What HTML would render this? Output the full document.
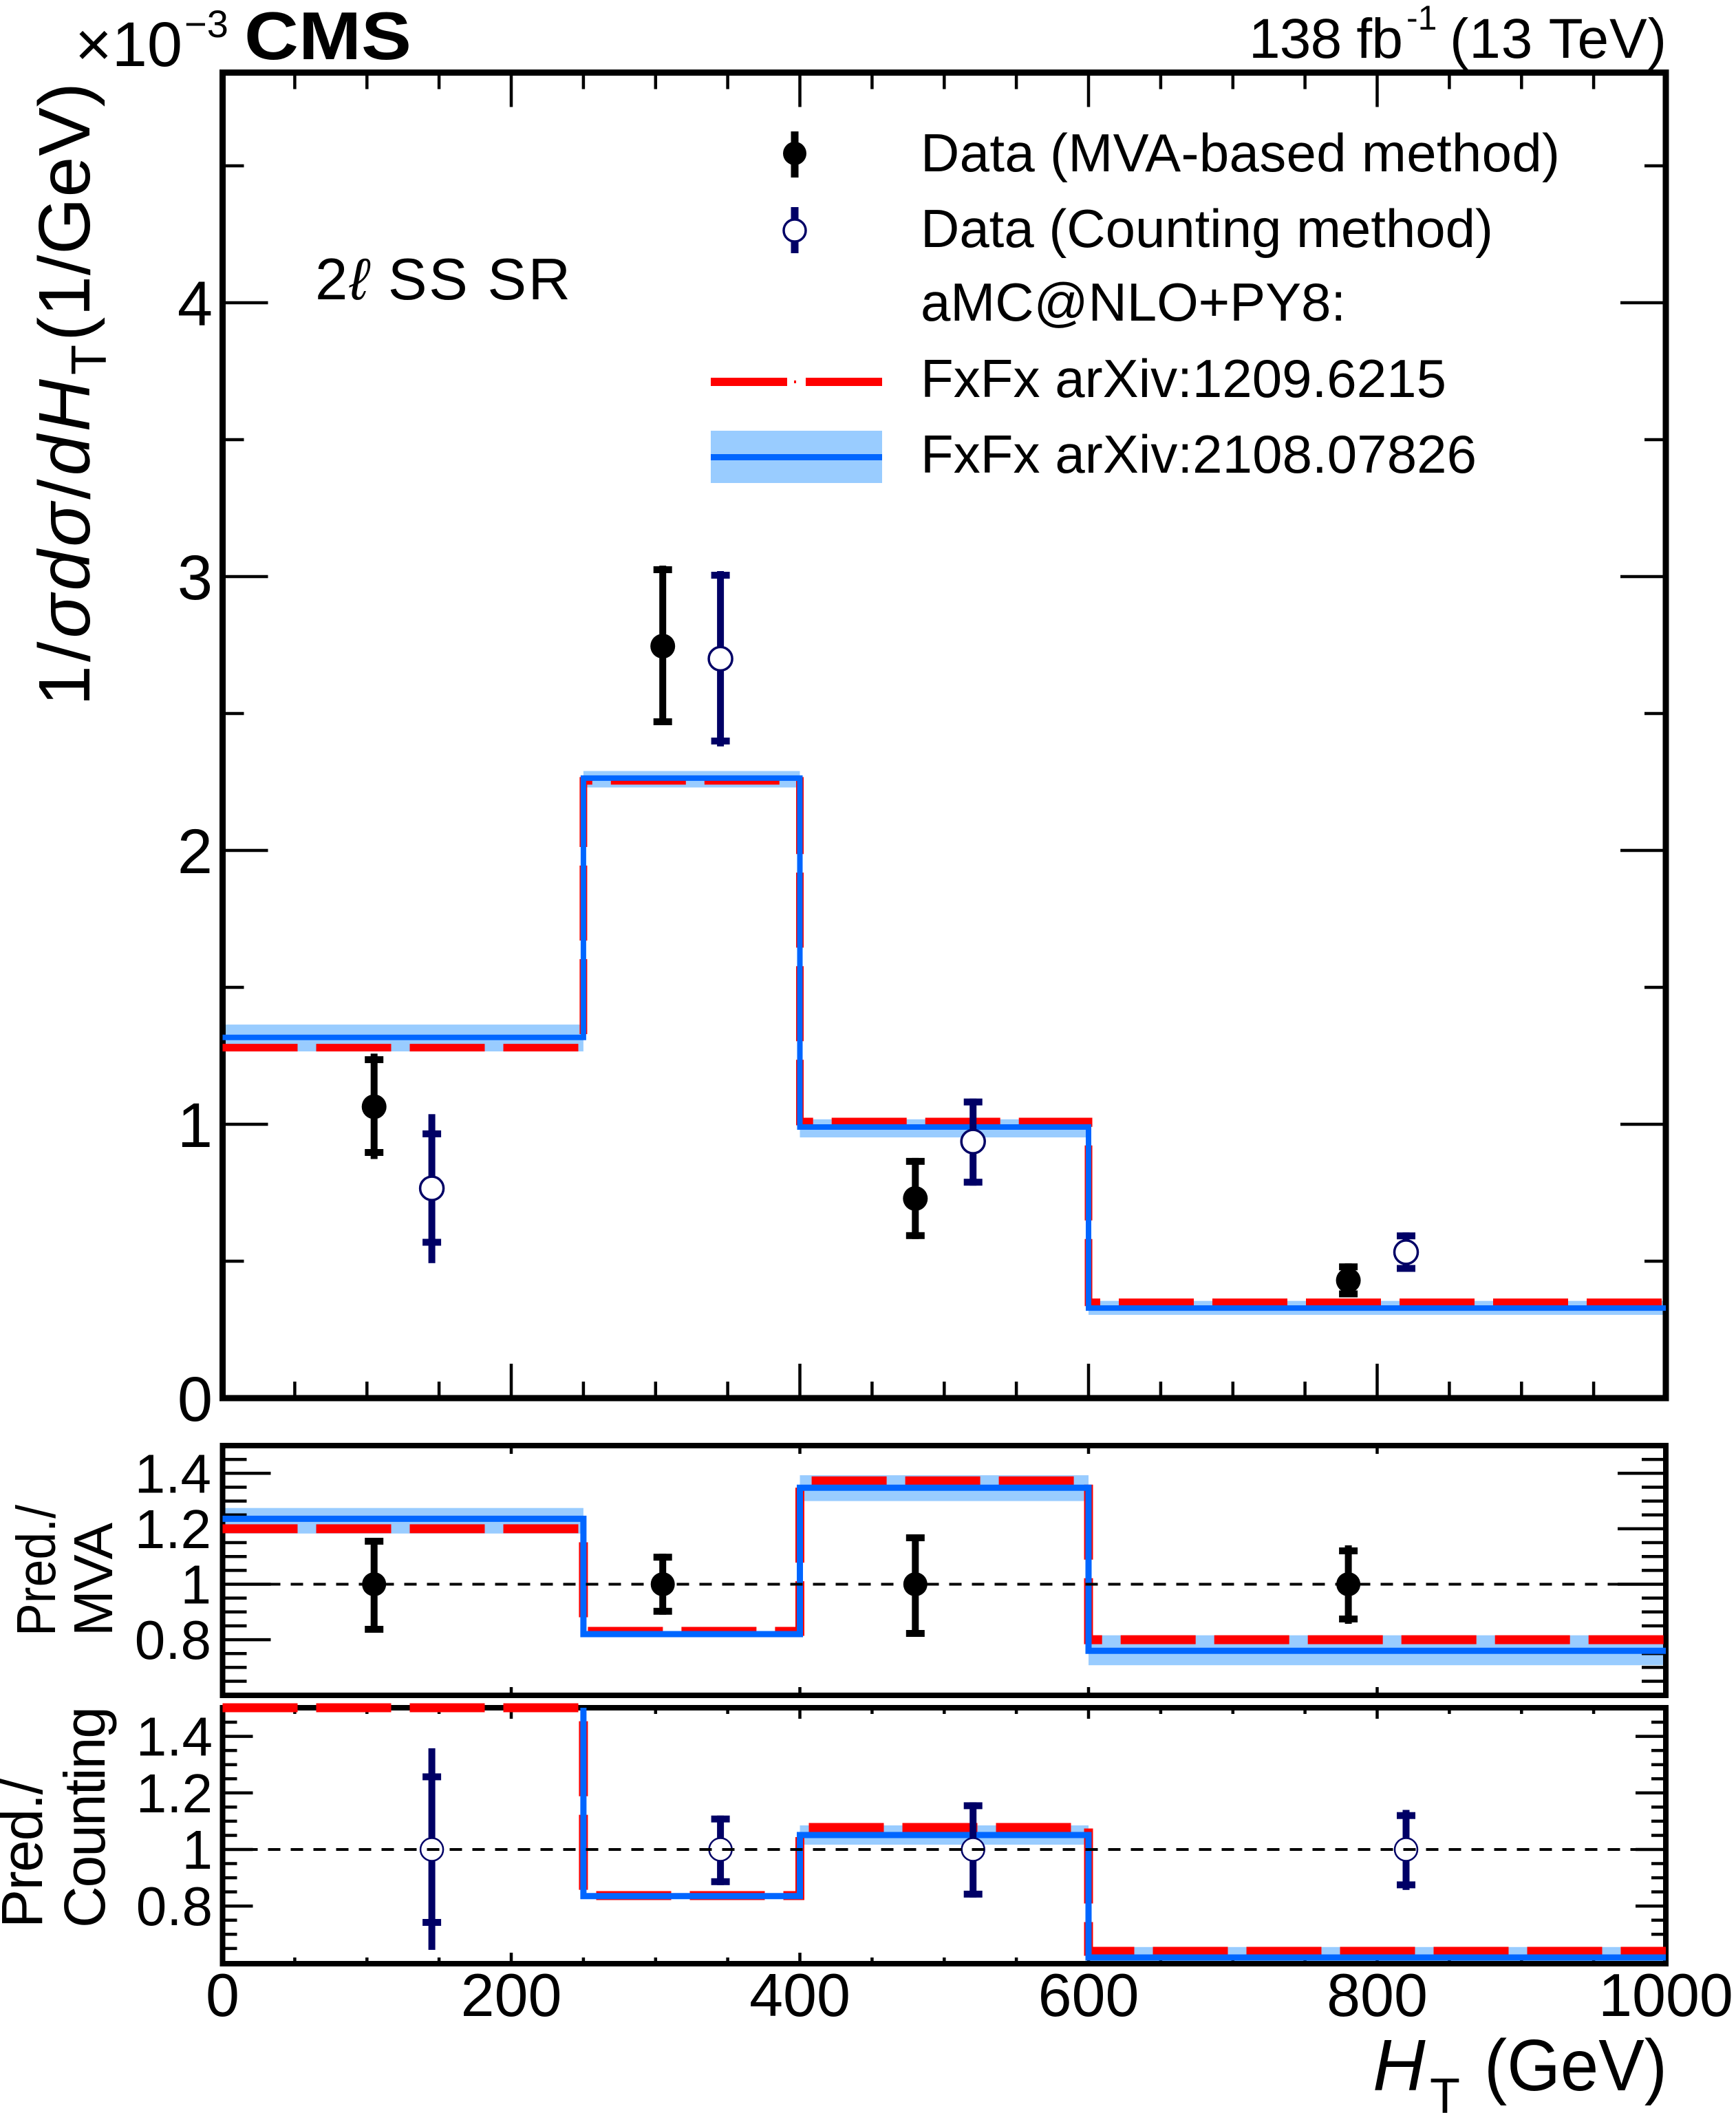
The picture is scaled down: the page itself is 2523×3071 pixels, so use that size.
<!DOCTYPE html>
<html>
<head>
<meta charset="utf-8">
<style>
html,body{margin:0;padding:0;background:#fff}
svg{display:block}
text{font-family:"Liberation Sans",Arial,"DejaVu Sans",sans-serif;fill:#000}
</style>
</head>
<body>
<svg width="2523" height="3071" viewBox="0 0 2523 3071" xmlns="http://www.w3.org/2000/svg">
<defs>
  <clipPath id="cm"><rect x="323.5" y="105.5" width="2097.5" height="1926.5"/></clipPath>
  <clipPath id="c2"><rect x="323.5" y="2101" width="2097.5" height="363"/></clipPath>
  <clipPath id="c3"><rect x="323.5" y="2474" width="2097.5" height="380"/></clipPath>
</defs>
<rect width="2523" height="3071" fill="#fff"/>

<!-- ===== BANDS ===== -->
<g fill="#99ccff" clip-path="url(#cm)">
  <rect x="323.5" y="1489.1" width="524.4" height="39"/>
  <rect x="847.9" y="1120.6" width="314.6" height="23.9"/>
  <rect x="1162.5" y="1626.8" width="419.5" height="26.3"/>
  <rect x="1582" y="1890.7" width="839" height="20.3"/>
</g>
<g fill="#99ccff" clip-path="url(#c2)">
  <rect x="323.5" y="2191.7" width="524.4" height="37.1"/>
  <rect x="847.9" y="2371" width="314.6" height="8"/>
  <rect x="1162.5" y="2144.1" width="419.5" height="37.5"/>
  <rect x="1582" y="2376.7" width="839" height="43.5"/>
</g>
<g fill="#99ccff" clip-path="url(#c3)">
  <rect x="847.9" y="2753" width="314.6" height="6"/>
  <rect x="1162.5" y="2653" width="419.5" height="28"/>
  <rect x="1582" y="2829.8" width="839" height="22.2"/>
</g>

<!-- ===== FRAMES ===== -->
<g fill="none" stroke="#000">
  <rect x="323.5" y="105.5" width="2097.5" height="1926.5" stroke-width="9"/>
  <rect x="323.5" y="2101" width="2097.5" height="363" stroke-width="8"/>
  <rect x="323.5" y="2482" width="2097.5" height="372" stroke-width="8"/>
</g>

<!-- ===== TICKS ===== -->
<g fill="none" stroke="#000" stroke-width="4.5">
  <path d="M323.5,1634h66M323.5,1236h66M323.5,838h66M323.5,440h66"/>
  <path d="M323.5,1833h31M323.5,1435h31M323.5,1037h31M323.5,639h31M323.5,241h31"/>
  <path d="M2421,1634h-66M2421,1236h-66M2421,838h-66M2421,440h-66"/>
  <path d="M2421,1833h-31M2421,1435h-31M2421,1037h-31M2421,639h-31M2421,241h-31"/>
  <path d="M743,105.5v50M1162.5,105.5v50M1582,105.5v50M2001.5,105.5v50"/>
  <path d="M428.4,105.5v24M533.3,105.5v24M638.1,105.5v24M847.9,105.5v24M952.8,105.5v24M1057.6,105.5v24M1267.4,105.5v24M1372.3,105.5v24M1477.1,105.5v24M1686.9,105.5v24M1791.8,105.5v24M1896.6,105.5v24M2106.4,105.5v24M2211.3,105.5v24M2316.1,105.5v24"/>
  <path d="M743,2032v-50M1162.5,2032v-50M1582,2032v-50M2001.5,2032v-50"/>
  <path d="M428.4,2032v-24M533.3,2032v-24M638.1,2032v-24M847.9,2032v-24M952.8,2032v-24M1057.6,2032v-24M1267.4,2032v-24M1372.3,2032v-24M1477.1,2032v-24M1686.9,2032v-24M1791.8,2032v-24M1896.6,2032v-24M2106.4,2032v-24M2211.3,2032v-24M2316.1,2032v-24"/>

  <path d="M323.5,2383.1h70M323.5,2302.5h70M323.5,2221.9h70M323.5,2141.3h70"/>
  <path d="M323.5,2443.55h35M323.5,2423.4h35M323.5,2403.25h35M323.5,2362.95h35M323.5,2342.8h35M323.5,2322.65h35M323.5,2282.35h35M323.5,2262.2h35M323.5,2242.05h35M323.5,2201.75h35M323.5,2181.6h35M323.5,2161.45h35M323.5,2121.15h35"/>
  <path d="M2421,2383.1h-70M2421,2302.5h-70M2421,2221.9h-70M2421,2141.3h-70"/>
  <path d="M2421,2443.55h-35M2421,2423.4h-35M2421,2403.25h-35M2421,2362.95h-35M2421,2342.8h-35M2421,2322.65h-35M2421,2282.35h-35M2421,2262.2h-35M2421,2242.05h-35M2421,2201.75h-35M2421,2181.6h-35M2421,2161.45h-35M2421,2121.15h-35"/>
  <path d="M743,2101v12M1162.5,2101v12M1582,2101v12M2001.5,2101v12"/>
  <path d="M743,2464v-12M1162.5,2464v-12M1582,2464v-12M2001.5,2464v-12"/>

  <path d="M323.5,2770.2h44M323.5,2688h44M323.5,2605.8h44M323.5,2523.6h44"/>
  <path d="M323.5,2831.85h21M323.5,2811.3h21M323.5,2790.75h21M323.5,2749.65h21M323.5,2729.1h21M323.5,2708.55h21M323.5,2667.45h21M323.5,2646.9h21M323.5,2626.35h21M323.5,2585.25h21M323.5,2564.7h21M323.5,2544.15h21M323.5,2503.05h21"/>
  <path d="M2421,2770.2h-44M2421,2688h-44M2421,2605.8h-44M2421,2523.6h-44"/>
  <path d="M2421,2831.85h-21M2421,2811.3h-21M2421,2790.75h-21M2421,2749.65h-21M2421,2729.1h-21M2421,2708.55h-21M2421,2667.45h-21M2421,2646.9h-21M2421,2626.35h-21M2421,2585.25h-21M2421,2564.7h-21M2421,2544.15h-21M2421,2503.05h-21"/>
  <path d="M743,2482v16M1162.5,2482v16M1582,2482v16M2001.5,2482v16"/>
  <path d="M428.4,2482v9M533.3,2482v9M638.1,2482v9M847.9,2482v9M952.8,2482v9M1057.6,2482v9M1267.4,2482v9M1372.3,2482v9M1477.1,2482v9M1686.9,2482v9M1791.8,2482v9M1896.6,2482v9M2106.4,2482v9M2211.3,2482v9M2316.1,2482v9"/>
  <path d="M743,2854v-16M1162.5,2854v-16M1582,2854v-16M2001.5,2854v-16"/>
  <path d="M428.4,2854v-9M533.3,2854v-9M638.1,2854v-9M847.9,2854v-9M952.8,2854v-9M1057.6,2854v-9M1267.4,2854v-9M1372.3,2854v-9M1477.1,2854v-9M1686.9,2854v-9M1791.8,2854v-9M1896.6,2854v-9M2106.4,2854v-9M2211.3,2854v-9M2316.1,2854v-9"/>
</g>

<!-- ===== HISTOGRAM LINES ===== -->
<g fill="none" clip-path="url(#cm)">
  <path d="M323.5,1522.6H847.9V1134.9H1162.5V1630H1582V1892.7H2421" stroke="#ff0000" stroke-width="11" stroke-dasharray="109 27"/>
  <path d="M323.5,1507.8H847.9V1130.9H1162.5V1638H1582V1901.1H2421" stroke="#0066ff" stroke-width="8"/>
</g>
<g fill="none" clip-path="url(#c2)">
  <path d="M323.5,2221.9H847.9V2371H1162.5V2152.2H1582V2383.1H2421" stroke="#ff0000" stroke-width="13" stroke-dasharray="109 27"/>
  <path d="M323.5,2207.4H847.9V2375H1162.5V2162.3H1582V2399.2H2421" stroke="#0066ff" stroke-width="9"/>
</g>
<g fill="none" clip-path="url(#c3)">
  <path d="M323.5,2482H847.9V2755H1162.5V2656H1582V2836H2421" stroke="#ff0000" stroke-width="13" stroke-dasharray="109 27"/>
  <path d="M847.9,2482V2755.8H1162.5V2667H1582V2845H2421" stroke="#0066ff" stroke-width="9"/>
</g>

<!-- ===== MAIN DATA POINTS ===== -->
<g fill="#000" stroke="none">
  <rect x="538.7" y="1531.3" width="10" height="153.2"/>
  <rect x="530.2" y="1535.1" width="27" height="10"/><rect x="530.2" y="1670" width="27" height="10"/>
  <circle cx="543.7" cy="1608.5" r="18"/>

  <rect x="958.2" y="822.1" width="10" height="230.8"/>
  <rect x="949.7" y="823" width="27" height="10"/><rect x="949.7" y="1044" width="27" height="10"/>
  <circle cx="963.2" cy="939.1" r="18"/>

  <rect x="1325.3" y="1682.9" width="10" height="117.9"/>
  <rect x="1316.8" y="1682.9" width="27" height="10"/><rect x="1316.8" y="1790.8" width="27" height="10"/>
  <circle cx="1330.3" cy="1741.9" r="18"/>

  <rect x="1954.6" y="1836.2" width="10" height="49.3"/>
  <rect x="1946.1" y="1836.2" width="27" height="10"/><rect x="1946.1" y="1875.5" width="27" height="10"/>
  <circle cx="1959.6" cy="1860.9" r="18"/>
</g>
<g fill="#000066">
  <rect x="622.6" y="1619.3" width="10" height="216.5"/>
  <rect x="614.1" y="1642.9" width="27" height="10"/><rect x="614.1" y="1800.5" width="27" height="10"/>

  <rect x="1042.1" y="830" width="10" height="254.8"/>
  <rect x="1033.6" y="831" width="27" height="10"/><rect x="1033.6" y="1072" width="27" height="10"/>

  <rect x="1409.2" y="1596.6" width="10" height="126.6"/>
  <rect x="1400.7" y="1596.6" width="27" height="10"/><rect x="1400.7" y="1713.2" width="27" height="10"/>

  <rect x="2038.5" y="1791.2" width="10" height="57.3"/>
  <rect x="2030" y="1791.2" width="27" height="10"/><rect x="2030" y="1838.5" width="27" height="10"/>
</g>
<g fill="#fff" stroke="#000066" stroke-width="3.5">
  <circle cx="627.6" cy="1727.1" r="17"/>
  <circle cx="1047.1" cy="957.4" r="17"/>
  <circle cx="1414.2" cy="1659.1" r="17"/>
  <circle cx="2043.5" cy="1819.9" r="17"/>
</g>

<!-- ===== PANEL 2 POINTS ===== -->
<line x1="323.5" y1="2302.5" x2="2421" y2="2302.5" stroke="#000" stroke-width="4" stroke-dasharray="18 15"/>
<g fill="#000">
  <rect x="538.7" y="2235" width="10" height="138"/>
  <rect x="530.2" y="2235" width="27" height="10"/><rect x="530.2" y="2363" width="27" height="10"/>
  <circle cx="543.7" cy="2302.5" r="17.5"/>

  <rect x="958.2" y="2258.2" width="10" height="88.6"/>
  <rect x="949.7" y="2258.2" width="27" height="10"/><rect x="949.7" y="2336.8" width="27" height="10"/>
  <circle cx="963.2" cy="2302.5" r="17.5"/>

  <rect x="1325.3" y="2230" width="10" height="149"/>
  <rect x="1316.8" y="2230" width="27" height="10"/><rect x="1316.8" y="2369" width="27" height="10"/>
  <circle cx="1330.3" cy="2302.5" r="17.5"/>

  <rect x="1954.6" y="2246" width="10" height="114"/>
  <rect x="1946.1" y="2249" width="27" height="10"/><rect x="1946.1" y="2348" width="27" height="10"/>
  <circle cx="1959.6" cy="2302.5" r="17.5"/>
</g>

<!-- ===== PANEL 3 POINTS ===== -->
<g fill="#000066">
  <rect x="622.6" y="2540.9" width="10" height="293"/>
  <rect x="614.1" y="2577.4" width="27" height="10"/><rect x="614.1" y="2789" width="27" height="10"/>

  <rect x="1042.1" y="2638.7" width="10" height="101.1"/>
  <rect x="1033.6" y="2638.7" width="27" height="10"/><rect x="1033.6" y="2729.8" width="27" height="10"/>

  <rect x="1409.2" y="2619.4" width="10" height="138.5"/>
  <rect x="1400.7" y="2619.4" width="27" height="10"/><rect x="1400.7" y="2747.9" width="27" height="10"/>

  <rect x="2038.5" y="2630.5" width="10" height="116.3"/>
  <rect x="2030" y="2633.7" width="27" height="10"/><rect x="2030" y="2734.4" width="27" height="10"/>
</g>
<g fill="#fff" stroke="#000066" stroke-width="2.5">
  <circle cx="627.6" cy="2688" r="16.5"/>
  <circle cx="1047.1" cy="2688" r="16.5"/>
  <circle cx="1414.2" cy="2688" r="16.5"/>
  <circle cx="2043.5" cy="2688" r="16.5"/>
</g>
<line x1="323.5" y1="2688" x2="2421" y2="2688" stroke="#000" stroke-width="4" stroke-dasharray="18 15"/>

<!-- ===== LEGEND ===== -->
<rect x="1149.5" y="191" width="11" height="67" fill="#000"/>
<circle cx="1155" cy="223" r="17" fill="#000"/>
<rect x="1149.5" y="301" width="11" height="67" fill="#000066"/>
<circle cx="1155" cy="335" r="16" fill="#fff" stroke="#000066" stroke-width="3.5"/>
<rect x="1033" y="549" width="111" height="12" fill="#ff0000"/>
<rect x="1154" y="553" width="3" height="4" fill="#ff0000"/>
<rect x="1171" y="549" width="111" height="12" fill="#ff0000"/>
<rect x="1033" y="626" width="249" height="76" fill="#99ccff"/>
<rect x="1033" y="660" width="249" height="9" fill="#0066ff"/>

<g font-size="78">
  <text x="1338" y="249" textLength="929" lengthAdjust="spacing">Data (MVA-based method)</text>
  <text x="1338" y="359" textLength="832" lengthAdjust="spacing">Data (Counting method)</text>
  <text x="1338" y="466" textLength="618" lengthAdjust="spacing">aMC@NLO+PY8:</text>
  <text x="1338" y="577" textLength="764" lengthAdjust="spacing">FxFx arXiv:1209.6215</text>
  <text x="1338" y="687" textLength="808" lengthAdjust="spacing">FxFx arXiv:2108.07826</text>
</g>

<!-- ===== TEXT LABELS ===== -->
<text x="355" y="86" font-size="98" font-weight="bold" textLength="243" lengthAdjust="spacingAndGlyphs">CMS</text>
<text x="109" y="96" font-size="92">×10</text>
<text x="268" y="54" font-size="56">−3</text>

<text x="1815" y="84" font-size="82" textLength="224" lengthAdjust="spacing">138 fb</text>
<text x="2044" y="43" font-size="50">-1</text>
<text x="2107" y="84" font-size="82" textLength="315" lengthAdjust="spacing">(13 TeV)</text>

<text x="458" y="435" font-size="85" textLength="371" lengthAdjust="spacing">2<tspan font-style="italic">ℓ</tspan> SS SR</text>

<g font-size="92" text-anchor="end">
  <text x="309" y="2065">0</text>
  <text x="309" y="1667">1</text>
  <text x="309" y="1269">2</text>
  <text x="309" y="871">3</text>
  <text x="309" y="473">4</text>
</g>
<g font-size="80" text-anchor="end">
  <text x="307" y="2169.3">1.4</text>
  <text x="307" y="2249.9">1.2</text>
  <text x="307" y="2330.5">1</text>
  <text x="307" y="2411.1">0.8</text>
  <text x="309" y="2551.6">1.4</text>
  <text x="309" y="2633.8">1.2</text>
  <text x="309" y="2716">1</text>
  <text x="309" y="2798.2">0.8</text>
</g>
<g font-size="88" text-anchor="middle">
  <text x="323.5" y="2930">0</text>
  <text x="743" y="2930">200</text>
  <text x="1162.5" y="2930">400</text>
  <text x="1582" y="2930">600</text>
  <text x="2001.5" y="2930">800</text>
  <text x="2421" y="2930">1000</text>
</g>

<text x="1995" y="3038" font-size="106" font-style="italic">H</text>
<text x="2078" y="3071" font-size="72">T</text>
<text x="2157" y="3038" font-size="106" textLength="266" lengthAdjust="spacingAndGlyphs">(GeV)</text>

<g transform="translate(130,0) rotate(-90)">
  <text x="-1026" y="0" font-size="106" textLength="475" lengthAdjust="spacing">1/<tspan font-style="italic">σdσ</tspan>/<tspan font-style="italic">dH</tspan></text>
</g>
<g transform="translate(154,0) rotate(-90)">
  <text x="-545" y="0" font-size="72">T</text>
</g>
<g transform="translate(130,0) rotate(-90)">
  <text x="-496" y="0" font-size="106" textLength="376" lengthAdjust="spacing">(1/GeV)</text>
</g>

<g transform="translate(80,0) rotate(-90)">
  <text x="-2378" y="0" font-size="80" textLength="191" lengthAdjust="spacingAndGlyphs">Pred./</text>
</g>
<g transform="translate(163,0) rotate(-90)">
  <text x="-2378" y="0" font-size="80" textLength="165" lengthAdjust="spacing">MVA</text>
</g>
<g transform="translate(61,0) rotate(-90)">
  <text x="-2802" y="0" font-size="84" textLength="217" lengthAdjust="spacing">Pred./</text>
</g>
<g transform="translate(152,0) rotate(-90)">
  <text x="-2802" y="0" font-size="84" textLength="322" lengthAdjust="spacing">Counting</text>
</g>
</svg>
</body>
</html>
